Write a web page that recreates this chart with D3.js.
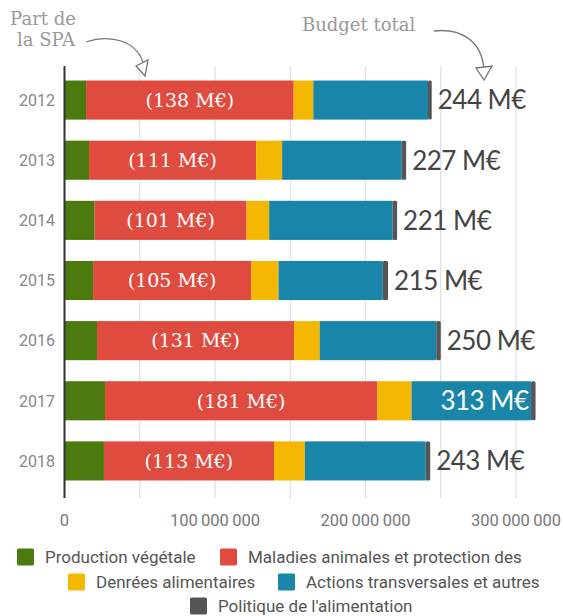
<!DOCTYPE html>
<html>
<head>
<meta charset="utf-8">
<script src="https://cdn.jsdelivr.net/npm/d3@7"></script>
<style>
  body { margin: 0; background: #fff; }
  svg { display: block; }
</style>
</head>
<body>
<div id="chart"></div>
<script>
const years = ["2012", "2013", "2014", "2015", "2016", "2017", "2018"];
const categories = [
  "Production végétale",
  "Maladies animales et protection des",
  "Denrées alimentaires",
  "Actions transversales et autres",
  "Politique de l'alimentation"
];
// values in M€
const production = [14.3, 16.3, 20, 19, 21.6, 26.9, 26.2];
const maladies = [138, 111, 101, 105, 131, 181, 113];
const denrees = [13, 17.3, 15, 18.2, 17, 22.7, 20.5];
const actions = [76.2, 79.4, 82, 69.3, 77.4, 79.4, 80.3];
const politique = [2.5, 3, 3, 3.5, 3, 3, 3];
const totals = [244, 227, 221, 215, 250, 313, 243];
const ticks = [0, 100000000, 200000000, 300000000];

const colors = ["#4b7a0e", "#df4b3f", "#f5b802", "#1985a8", "#555555"];

const width = 563, height = 616;
const svg = d3.select("#chart").append("svg")
  .attr("width", width)
  .attr("height", height);

const x = d3.scaleLinear().domain([0, 300000000]).range([64.5, 516]);
const y = d3.scaleBand().domain(years).range([70, 491])
  .paddingInner(0.35).paddingOuter(0.175);

// grid every 50M
svg.append("g")
  .selectAll("line")
  .data(d3.range(50000000, 350000001, 50000000))
  .join("line")
  .attr("x1", d => x(d)).attr("x2", d => x(d))
  .attr("y1", 66).attr("y2", 498)
  .attr("stroke", "#e2e2e2")
  .attr("stroke-width", 1.3);

const series = [production, maladies, denrees, actions, politique];
const rows = years.map((yr, i) => {
  const r = { year: yr };
  categories.forEach((c, k) => r[c] = series[k][i] * 1e6);
  return r;
});
const stacked = d3.stack().keys(categories)(rows);

svg.append("g")
  .selectAll("g")
  .data(stacked.slice(0, 4))
  .join("g")
  .attr("fill", (d, i) => colors[i])
  .selectAll("rect")
  .data(d => d)
  .join("rect")
  .attr("x", d => x(d[0]))
  .attr("y", d => y(d.data.year))
  .attr("width", d => x(d[1]) - x(d[0]))
  .attr("height", y.bandwidth());

// last segment, slightly rounded end
const last = stacked[stacked.length - 1];
svg.append("g")
  .selectAll("rect")
  .data(last)
  .join("rect")
  .attr("x", d => x(d[0]))
  .attr("y", d => y(d.data.year))
  .attr("width", d => x(d[1]) - x(d[0]))
  .attr("height", y.bandwidth())
  .attr("rx", 1.5)
  .attr("fill", colors[4]);

// axis line
svg.append("line")
  .attr("x1", x(0)).attr("x2", x(0))
  .attr("y1", 66).attr("y2", 498)
  .attr("stroke", "#333")
  .attr("stroke-width", 2);

// year labels
svg.append("g")
  .selectAll("text")
  .data(years)
  .join("text")
  .attr("x", 55)
  .attr("y", d => y(d) + y.bandwidth() / 2)
  .attr("dy", "0.36em")
  .attr("text-anchor", "end")
  .attr("font-family", "Roboto")
  .attr("font-size", 16)
  .attr("fill", "#888")
  .text(d => d);

// SPA labels
svg.append("g")
  .selectAll("text")
  .data(stacked[1])
  .join("text")
  .attr("x", d => (x(d[0]) + x(d[1])) / 2)
  .attr("y", d => y(d.data.year) + y.bandwidth() / 2)
  .attr("dy", "0.36em")
  .attr("text-anchor", "middle")
  .attr("font-family", "DejaVu Serif")
  .attr("font-size", 19)
  .attr("fill", "#fff")
  .text((d, i) => "(" + maladies[i] + " M€)");

// total labels
svg.append("g")
  .selectAll("text")
  .data(last)
  .join("text")
  .attr("x", (d, i) => totals[i] > 300 ? x(d[1]) - 7 : x(d[1]) + 6)
  .attr("y", d => y(d.data.year) + y.bandwidth() / 2)
  .attr("dy", "0.36em")
  .attr("text-anchor", (d, i) => totals[i] > 300 ? "end" : "start")
  .attr("font-family", "Lato")
  .attr("font-size", 26)
  .attr("letter-spacing", -0.5)
  .attr("fill", (d, i) => totals[i] > 300 ? "#fff" : "#444")
  .text((d, i) => totals[i] + " M€");

// x tick labels
const fmt = d3.formatLocale({ decimal: ",", thousands: "\u2009", grouping: [3], currency: ["", "€"] }).format(",d");
svg.append("g")
  .selectAll("text")
  .data(ticks)
  .join("text")
  .attr("x", d => x(d))
  .attr("y", 526)
  .attr("text-anchor", "middle")
  .attr("font-family", "Roboto")
  .attr("font-size", 16.5)
  .attr("fill", "#777")
  .text(d => fmt(d));

// legend
const legendPos = [
  { x: 17, y: 557 }, { x: 220, y: 557 },
  { x: 68, y: 582 }, { x: 278, y: 582 },
  { x: 190, y: 606 }
];
const legend = svg.append("g")
  .selectAll("g")
  .data(categories)
  .join("g")
  .attr("transform", (d, i) => `translate(${legendPos[i].x},${legendPos[i].y})`);
legend.append("rect")
  .attr("x", 0).attr("y", -8.5)
  .attr("width", 17).attr("height", 17)
  .attr("rx", 1.5)
  .attr("fill", (d, i) => colors[i]);
legend.append("text")
  .attr("x", 28)
  .attr("dy", "0.36em")
  .attr("font-family", "Roboto")
  .attr("font-size", 17)
  .attr("fill", "#555")
  .text(d => d);

// annotations
const ann = svg.append("g")
  .attr("font-family", "DejaVu Serif")
  .attr("font-size", 18)
  .attr("fill", "#999");
ann.append("text").attr("x", 43).attr("y", 25).attr("text-anchor", "middle").text("Part de");
ann.append("text").attr("x", 46).attr("y", 46).attr("text-anchor", "middle").text("la SPA");
ann.append("text").attr("x", 302).attr("y", 31).text("Budget total");

const arrow = svg.append("g")
  .attr("fill", "none")
  .attr("stroke", "#777")
  .attr("stroke-width", 1.3);
arrow.append("path").attr("d", "M86,42 C110,34 138,40 144,66");
arrow.append("path").attr("d", "M136,66 L148,60 L145,76 Z").attr("fill", "#fff");
arrow.append("path").attr("d", "M434,31 C460,28 482,40 484,70");
arrow.append("path").attr("d", "M476,68 L492,66 L484,80 Z").attr("fill", "#fff");
</script>
</body>
</html>
